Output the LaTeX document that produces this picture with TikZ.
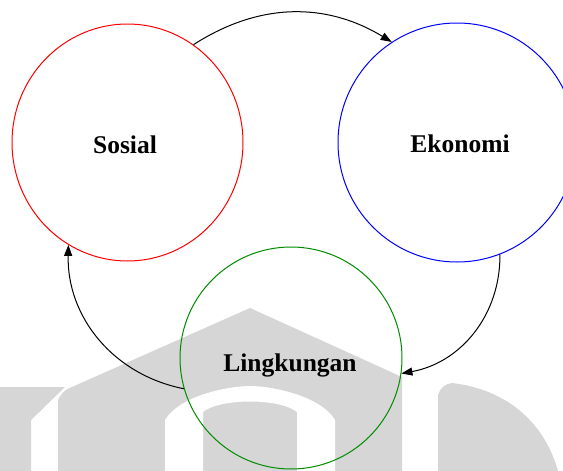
\documentclass[tikz,border=0pt]{standalone}
\usepackage{fontspec}
\setmainfont{Liberation Serif}
\usetikzlibrary{arrows.meta,shapes.geometric}
\begin{document}
\begin{tikzpicture}[x=1pt,y=-1pt,
  ring/.style={draw=#1,line width=1pt,ellipse,inner sep=0pt},
  lbl/.style={font=\fontsize{25.5}{25.5}\selectfont\bfseries,inner sep=0pt},
  flow/.style={draw=black,line width=1pt,-{Triangle[length=11pt,width=8pt]}},
  wm/.style={fill=black!16}]
\useasboundingbox (0,0) rectangle (563,471);
\fill[white] (0,0) rectangle (563,471);
% watermark (rough)
\fill[wm] (58,471) -- (58,400) .. controls (62,392) and (66,389) .. (72,387)
  -- (250,308) -- (402,377) -- (402,471) -- cycle;
\fill[wm] (0,471) -- (0,387) -- (65,387) -- (31,420) -- (31,471) -- cycle;
\fill[wm] (438,471) -- (438,395) .. controls (440,388) and (445,384) .. (452,383)
  .. controls (510,390) and (545,425) .. (558,471) -- cycle;
\fill[white] (165,471) -- (165,420) .. controls (180,395) and (230,386) .. (250,386)
  .. controls (270,386) and (320,395) .. (335,420) -- (335,471) -- (297,471) -- (297,412)
  .. controls (280,398) and (220,398) .. (203,412) -- (203,471) -- cycle;
% circles
\node[ring=red,minimum width=231pt,minimum height=237pt] (sos) at (127.5,142.5) {};
\node[ring=blue,minimum width=238pt,minimum height=239pt] (eko) at (457,142.5) {};
\node[ring=green!55!black,minimum width=222pt,minimum height=222pt] (lin) at (291,358) {};
\node[lbl] (sosT) at (125,145) {Sosial};
\node[lbl] (ekoT) at (460,144) {Ekonomi};
\node[lbl] (linT) at (290,365) {Lingkungan};
% connectors
\draw[flow] (sos.56.8) to[bend left=32] (eko.123.8);
\draw[flow] (eko.-69.2) to[bend left=40] (lin.-8.9);
\draw[flow] (lin.196) to[bend left=40] (sos.240.9);
\end{tikzpicture}
\end{document}
